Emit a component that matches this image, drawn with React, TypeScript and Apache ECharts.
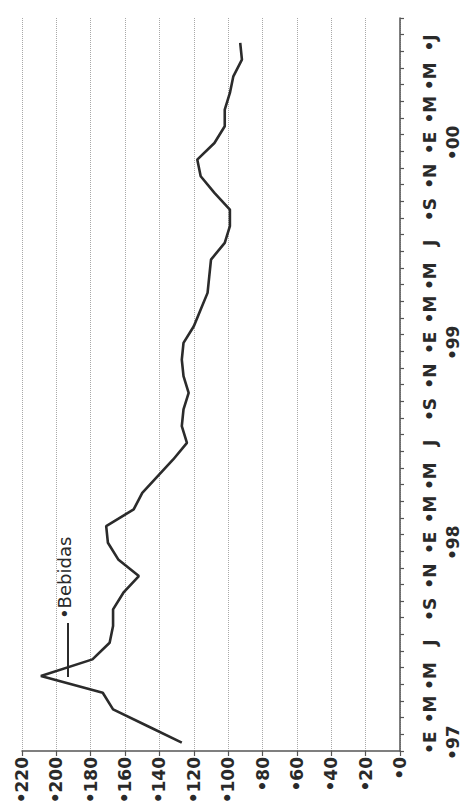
import React, { useEffect, useRef } from "react";
import * as echarts from "echarts";

// Month initials (Spanish) and years shown on the time axis
const monthLetters = ["E", "F", "M", "A", "M", "J", "J", "A", "S", "O", "N", "D"];
const yearLabels = ["97", "98", "99", "00"];
// Monthly index values, Jan 1997 .. Jul 2000 (last slot Aug 2000 is empty)
const bebidas = [
  127, 147, 167, 173, 209, 179, 169, 167, 167, 161, 152, 164,
  170, 171, 155, 150, 141, 132, 124, 127, 126, 123, 126, 127,
  126, 120, 116, 112, 111, 110, 102, 99, 99, 108, 116, 118,
  108, 102, 102, 99, 97, 92, 93, null,
];
const valueTicks = { min: 0, max: 220, interval: 20 };
const seriesName = "Bebidas";

const FONT = '"DejaVu Sans", "Liberation Sans", Arial, sans-serif';

export default function App() {
  const ref = useRef<HTMLDivElement>(null);
  useEffect(() => {
    if (!ref.current) return;
    const chart = echarts.init(ref.current, null, { renderer: "svg" });
    const categories: string[] = [];
    for (let i = 0; i < bebidas.length; i++) {
      const y = yearLabels[Math.floor(i / 12)] ?? "";
      categories.push(monthLetters[i % 12] + " " + y);
    }
    const lastYear = yearLabels[yearLabels.length - 1];
    chart.setOption({
      animation: false,
      backgroundColor: "#ffffff",
      grid: {
        left: 22,
        right: 70,
        top: 18,
        bottom: 61,
        containLabel: false,
        outerBoundsMode: "none",
      },
      xAxis: {
        type: "value",
        min: valueTicks.min,
        max: valueTicks.max,
        interval: valueTicks.interval,
        inverse: true,
        position: "bottom",
        axisLine: { show: true, lineStyle: { color: "#555", width: 1.5 } },
        axisTick: { show: true, length: 5, lineStyle: { color: "#555", width: 1.2 } },
        axisLabel: {
          rotate: 90,
          margin: 6,
          fontFamily: FONT,
          fontSize: 17,
          fontWeight: "bold",
          color: "#2a2a2a",
          formatter: (v: number) => "•" + v,
        },
        splitLine: {
          show: true,
          lineStyle: { type: "dotted", color: "#a8a8a8", width: 1 },
        },
      },
      yAxis: {
        type: "category",
        position: "right",
        data: categories,
        boundaryGap: true,
        axisLine: { show: true, lineStyle: { color: "#555", width: 1.5 } },
        axisTick: {
          show: true,
          interval: 0,
          length: 4,
          lineStyle: { color: "#555", width: 1.2 },
        },
        axisLabel: {
          interval: 1,
          rotate: 90,
          margin: 18,
          fontFamily: FONT,
          fontSize: 17,
          fontWeight: "bold",
          lineHeight: 23,
          color: "#2a2a2a",
          formatter: (_v: string, idx: number) => {
            const m = idx % 12;
            const yr = yearLabels[Math.floor(idx / 12)];
            const letter = monthLetters[m];
            if (m === 0) return "•" + letter + "\n•" + yr;
            if (m === 6 && yr !== lastYear) return letter;
            return "•" + letter;
          },
        },
        splitLine: { show: false },
      },
      series: [
        {
          name: seriesName,
          type: "line",
          data: bebidas,
          symbol: "none",
          connectNulls: false,
          lineStyle: { color: "#2b2b2b", width: 2.6 },
        },
      ],
      graphic: [
        {
          type: "line",
          shape: { x1: 68, y1: 623, x2: 68, y2: 677 },
          style: { stroke: "#2b2b2b", lineWidth: 2 },
        },
        {
          type: "text",
          x: 64,
          y: 619,
          rotation: Math.PI / 2,
          style: {
            text: "•" + seriesName,
            fontFamily: FONT,
            fontSize: 18,
            fill: "#2a2a2a",
            align: "left",
            verticalAlign: "middle",
            textAlign: "left",
            textVerticalAlign: "middle",
          },
        },
      ],
    });
    return () => chart.dispose();
  }, []);
  return (
    <div
      ref={ref}
      style={{
        position: "absolute",
        left: 0,
        top: 0,
        width: 470,
        height: 812,
        background: "#fff",
      }}
    />
  );
}
